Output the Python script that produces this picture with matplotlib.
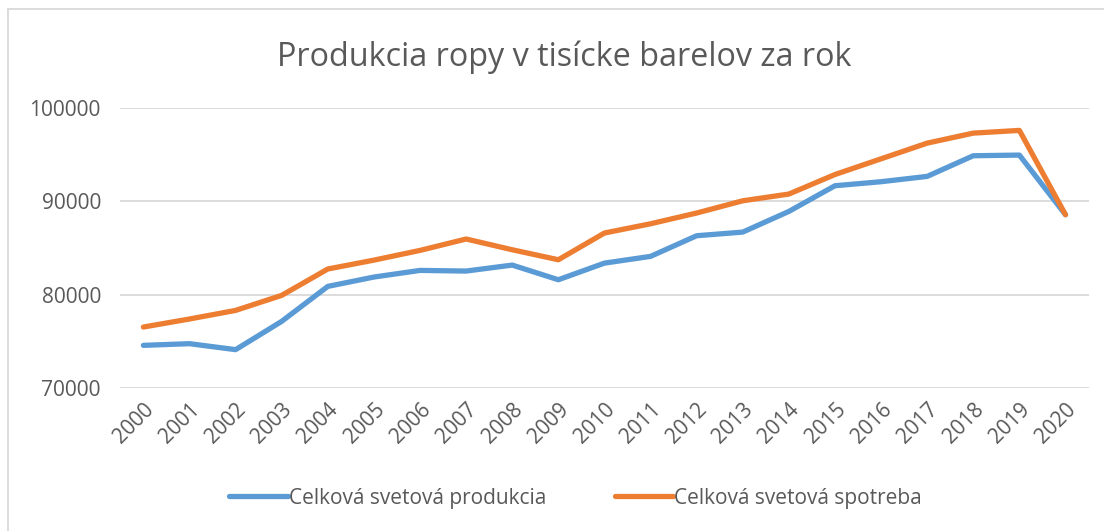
import matplotlib
matplotlib.use('Agg')
import matplotlib.pyplot as plt
from matplotlib.lines import Line2D

# Údaje odčítané z grafu
roky = [str(r) for r in range(2000, 2021)]
produkcia = [74580, 74760, 74120, 77150, 80890, 81890, 82600, 82530, 83170, 81600,
             83380, 84100, 86310, 86700, 88910, 91660, 92090, 92660, 94870, 94940, 88560]
spotreba = [76540, 77400, 78320, 79930, 82750, 83700, 84740, 85960, 84810, 83740,
            86600, 87590, 88740, 90050, 90770, 92860, 94540, 96220, 97290, 97580, 88560]
y_ticky = [70000, 80000, 90000, 100000]

plt.rcParams['font.family'] = ['Open Sans', 'DejaVu Sans']
sivy = '#595959'

fig = plt.figure(figsize=(11.04, 5.31), dpi=100)
ax = fig.add_axes([0.109, 0.269, 0.877, 0.528])

x = list(range(len(roky)))
ax.plot(x, produkcia, color='#5B9BD5', lw=3.8, solid_capstyle='round',
        solid_joinstyle='round', label='Celková svetová produkcia')
ax.plot(x, spotreba, color='#ED7D31', lw=3.8, solid_capstyle='round',
        solid_joinstyle='round', label='Celková svetová spotreba')

ax.set_xlim(-0.5, len(roky) - 0.5)
ax.set_ylim(70000, 100000)
ax.set_yticks(y_ticky)
ax.set_yticklabels([str(t) for t in y_ticky])
ax.set_xticks(x)
ax.set_xticklabels(roky, rotation=45, ha='right', rotation_mode='anchor')
ax.tick_params(axis='both', length=0, labelsize=15, colors=sivy)
ax.tick_params(axis='x', pad=8)
ax.tick_params(axis='y', pad=14)

ax.grid(axis='y', color='#D9D9D9', lw=1.3)
ax.set_axisbelow(True)
for s in ax.spines.values():
    s.set_visible(False)

fig.text(0.511, 0.893, 'Produkcia ropy v tisícke barelov za rok',
         ha='center', va='center', fontsize=23.3, color=sivy)

handles = [Line2D([], [], color='#5B9BD5', lw=3.8, solid_capstyle='round'),
           Line2D([], [], color='#ED7D31', lw=3.8, solid_capstyle='round')]
fig.legend(handles, ['Celková svetová produkcia', 'Celková svetová spotreba'],
           loc='center', bbox_to_anchor=(0.5215, 0.062), ncol=2, frameon=False,
           fontsize=15, labelcolor=sivy, handlelength=2.8, handletextpad=0.05,
           columnspacing=3.3)

# rámček grafu
fig.add_artist(Line2D([8 / 1104, 1], [1 - 9 / 531, 1 - 9 / 531], color='#D9D9D9', lw=1.3,
                      transform=fig.transFigure))
fig.add_artist(Line2D([8 / 1104, 8 / 1104], [0, 1 - 9 / 531], color='#D9D9D9', lw=1.3,
                      transform=fig.transFigure))

fig.savefig('out.png', dpi=100)
